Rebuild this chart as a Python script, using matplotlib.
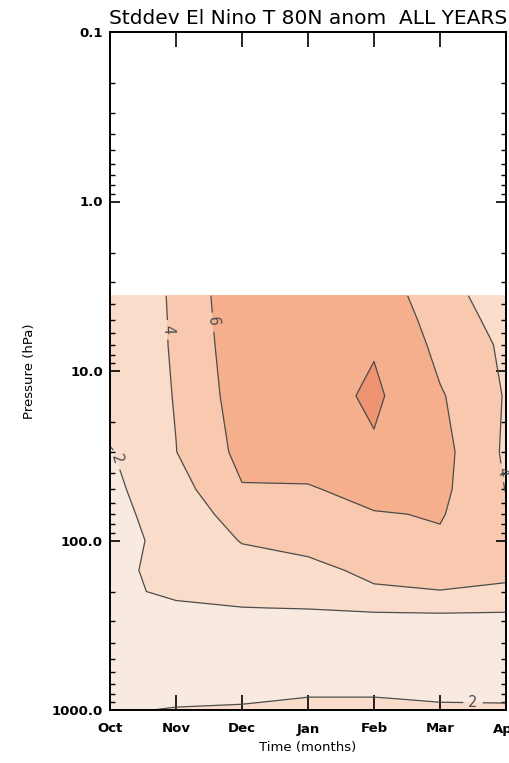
import numpy as np
import matplotlib
matplotlib.use("Agg")
import matplotlib.pyplot as plt
from matplotlib.ticker import LogLocator, NullFormatter, FixedLocator

# ---- data -------------------------------------------------------------
months = ["Oct", "Nov", "Dec", "Jan", "Feb", "Mar", "Apr"]
pressure = [3.6, 5, 7, 14, 30, 50, 70, 100, 150, 200, 250, 300, 500, 700, 850, 1000]

# std-dev of T anomaly (K) per month column, values at each pressure level
oct_vals = [3.2, 3.2, 3.2, 2.9, 1.85, 1.6, 1.5, 1.4, 1.3, 1.3, 1.3, 1.3, 1.2, 1.2, 1.4, 1.6]
nov_vals = [4.14, 4.12, 4.11, 4.07, 3.97, 3.2, 2.78, 2.53, 2.9, 2.57, 1.47, 1.4, 1.3, 1.3, 1.35, 2.225]
dec_vals = [7.65, 7.48, 7.31, 6.96, 6.51, 5.85, 4.88, 4.1, 3.0, 2.5, 1.97, 1.6, 1.4, 1.4, 1.6, 2.4]
jan_vals = [7.7, 7.7, 7.5, 7.07, 7.0, 5.78, 5.2, 4.6, 3.38, 2.8, 2.05, 1.35, 1.4, 1.34, 2.05, 2.5]
feb_vals = [7.5, 7.6, 7.88, 8.35, 7.65, 6.8, 5.84, 5.2, 4.5, 3.67, 2.3, 1.3, 1.4, 1.34, 2.05, 2.5]
mar_vals = [4.56, 5.18, 5.53, 6.2, 6.68, 6.46, 6.15, 5.7, 4.6, 3.95, 2.4, 1.32, 1.4, 1.4, 1.8, 2.4]
apr_vals = [3.26, 3.28, 3.64, 3.86, 3.7, 3.95, 4.3, 4.4, 4.3, 3.75, 2.3, 1.3, 1.4, 1.4, 1.8, 2.3]

levels = [0, 2, 4, 6, 8, 10]
line_levels = [2, 4, 6, 8]
fill_colors = ["#F8EAE1", "#FADCCA", "#F8C9AE", "#F5AF8D", "#EE9472"]

title = "Stddev El Nino T 80N anom  ALL YEARS"
ytick_vals = [0.1, 1, 10, 100, 1000]
ytick_labels = ["0.1", "1.0", "10.0", "100.0", "1000.0"]

# ---- figure -------------------------------------------------------------
W, H = 510, 763
fig = plt.figure(figsize=(W / 100, H / 100), dpi=100)
ax = fig.add_axes([110 / W, 1 - 710 / H, 396 / W, 678 / H])

x = np.arange(len(months))
Z = np.array([oct_vals, nov_vals, dec_vals, jan_vals, feb_vals, mar_vals, apr_vals]).T

ax.contourf(x, pressure, Z, levels=levels, colors=fill_colors)
cs = ax.contour(x, pressure, Z, levels=line_levels, colors="#4d4d4d", linewidths=0.9)

ax.set_yscale("log")
ax.set_ylim(1000, 0.1)
ax.set_xlim(0, 6)

label_pos = [(0.86, 5.7), (1.54, 5.1), (0.1, 33), (5.5, 910), (5.85, 40)]
texts = ax.clabel(cs, levels=[2, 4, 6], manual=label_pos, inline=True, fmt="%d",
                  fontsize=10.5, colors="#4d4d4d")
for t in texts:
    t.set_clip_on(False)

# ticks
ax.set_xticks(x)
ax.set_xticklabels(months)
ax.yaxis.set_major_locator(FixedLocator(ytick_vals))
ax.set_yticklabels(ytick_labels)
ax.yaxis.set_minor_locator(LogLocator(base=10, subs=range(2, 10)))
ax.yaxis.set_minor_formatter(NullFormatter())
ax.tick_params(axis="x", which="major", direction="in", length=11, width=1.2,
               top=True, bottom=True, pad=9)
ax.tick_params(axis="y", which="major", direction="in", length=7, width=1.2,
               left=True, right=True, pad=5)
ax.tick_params(axis="y", which="minor", direction="in", length=3.5, width=1.0,
               left=True, right=True)
for lab in ax.get_xticklabels() + ax.get_yticklabels():
    lab.set_fontweight("bold")
    lab.set_fontsize(9.5)
for sp in ax.spines.values():
    sp.set_linewidth(1.4)

ax.set_title(title, fontsize=14.5, pad=6)
fig.text(30 / W, 1 - 371 / H, "Pressure (hPa)", rotation=90, ha="center", va="center", fontsize=9.5)
fig.text(308 / W, 1 - 748 / H, "Time (months)", ha="center", va="center", fontsize=9.5)

fig.savefig("out.png", dpi=100)
